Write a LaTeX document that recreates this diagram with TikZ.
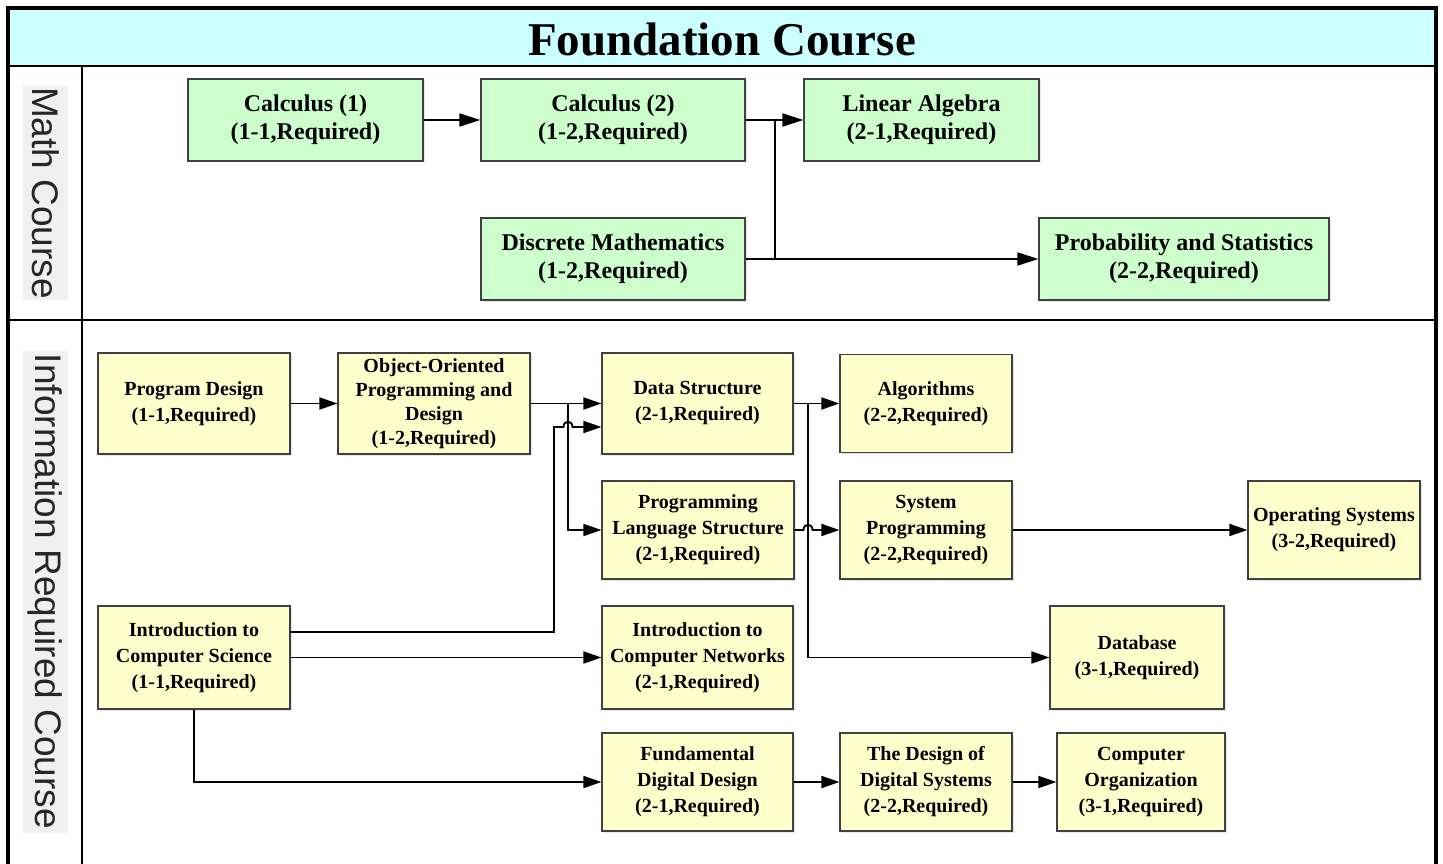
\documentclass[tikz,border=0pt]{standalone}
\usepackage{fontspec}
\setmainfont{Liberation Serif}
\newfontfamily\lanefont{Liberation Sans}
\usetikzlibrary{arrows.meta,shadows}
\definecolor{headcyan}{HTML}{CCFFFF}
\definecolor{mathgreen}{HTML}{CCFFCC}
\definecolor{infoyellow}{HTML}{FFFFCC}
\tikzset{
	course/.style={draw=black!75, line width=1.2pt, inner sep=0pt, align=center,
		drop shadow={opacity=.2, shadow xshift=1.5pt, shadow yshift=-1.5pt}},
	mathbox/.style={course, fill=mathgreen, font=\fontsize{24}{28}\bfseries\selectfont},
	infobox/.style={course, fill=infoyellow, font=\fontsize{20}{26}\bfseries\selectfont},
	lane/.style={fill=black!6, text=black!85, rotate=-90, inner sep=0pt, minimum height=45pt,
		font=\lanefont\fontsize{37}{37}\selectfont},
	arr/.style={-{Triangle[length=18pt,width=12pt]}, line width=1.9pt},
	bigarr/.style={-{Triangle[length=21pt,width=13pt]}, line width=1.9pt},
}
\begin{document}
\begin{tikzpicture}[x=1pt, y=-1pt, line join=miter]
	\useasboundingbox (0,0) rectangle (1443,864);
	% frame and lanes
	\fill[headcyan] (8,8) rectangle (1436,66);
	\draw[line width=2.5pt] (8,66) -- (1436,66) (8,320) -- (1436,320) (82,66) -- (82,864);
	\draw[line width=4pt] (8,864) -- (8,8) -- (1436,8) -- (1436,864);
	\node[font=\fontsize{47}{47}\bfseries\selectfont] (title) at (722,39) {Foundation Course};
	\node[lane, minimum width=214pt] (mathlane) at (45.5,193) {Math Course};
	\node[lane, minimum width=482pt] (infolane) at (45.5,591.5) {Information Required Course};
	% math course
	\node[mathbox, minimum width=235, minimum height=82] (calA) at (305.5,120) {Calculus (1)\\(1-1,Required)};
	\node[mathbox, minimum width=264, minimum height=82] (calB) at (613,120) {Calculus (2)\\(1-2,Required)};
	\node[mathbox, minimum width=235, minimum height=82] (linA) at (921.5,120) {Linear Algebra\\(2-1,Required)};
	\node[mathbox, minimum width=264, minimum height=82] (disc) at (613,259) {Discrete Mathematics\\(1-2,Required)};
	\node[mathbox, minimum width=290, minimum height=82] (prob) at (1184,259) {Probability and Statistics\\(2-2,Required)};
	% information course
	\node[infobox, minimum width=192, minimum height=101] (pd) at (194,403.5) {Program Design\\(1-1,Required)};
	\node[infobox, minimum width=192, minimum height=101, font=\fontsize{20}{24}\bfseries\selectfont] (oop) at (434,403.5) {Object-Oriented\\Programming and\\Design\\(1-2,Required)};
	\node[infobox, minimum width=191, minimum height=101] (ds) at (697.5,403.5) {Data Structure\\(2-1,Required)};
	\node[infobox, minimum width=172, minimum height=98] (alg) at (926,403.5) {Algorithms\\(2-2,Required)};
	\node[infobox, minimum width=192, minimum height=98] (pls) at (698,530) {Programming\\Language Structure\\(2-1,Required)};
	\node[infobox, minimum width=172, minimum height=98] (sp) at (926,530) {System\\Programming\\(2-2,Required)};
	\node[infobox, minimum width=172, minimum height=98] (os) at (1334,530) {Operating Systems\\(3-2,Required)};
	\node[infobox, minimum width=192, minimum height=103] (ics) at (194,657.5) {Introduction to\\Computer Science\\(1-1,Required)};
	\node[infobox, minimum width=191, minimum height=103] (icn) at (697.5,657.5) {Introduction to\\Computer Networks\\(2-1,Required)};
	\node[infobox, minimum width=174, minimum height=103] (db) at (1137,657.5) {Database\\(3-1,Required)};
	\node[infobox, minimum width=191, minimum height=98] (fdd) at (697.5,782) {Fundamental\\Digital Design\\(2-1,Required)};
	\node[infobox, minimum width=172, minimum height=98] (dds) at (926,782) {The Design of\\Digital Systems\\(2-2,Required)};
	\node[infobox, minimum width=168, minimum height=98] (co) at (1141,782) {Computer\\Organization\\(3-1,Required)};
	% junctions
	\coordinate (mj) at (775,0);
	\coordinate (jA) at (568,0);
	\coordinate (jB) at (554,0);
	\coordinate (jC) at (808,0);
	\coordinate (csOut) at ([yshift=25.5pt]ics.east);
	\coordinate (dsIn) at ([yshift=-23.5pt]ds.west);
	% math connectors
	\draw[bigarr] (calA.east) -- (calB.west);
	\draw[bigarr] (calB.east) -- (linA.west);
	\draw[bigarr] (disc.east) -- (prob.west);
	\draw[line width=1.9pt] (calB.east -| mj) -- (disc.east -| mj);
	% information connectors
	\draw[arr] (pd.east) -- (oop.west);
	\draw[arr] (oop.east) -- (ds.west);
	\draw[arr] (oop.east -| jA) |- (pls.west);
	\draw[arr] (csOut) -| (jB |- dsIn) -- ([xshift=-4.5pt]jA |- dsIn)
		.. controls +(0pt,7pt) and +(0pt,7pt) .. ([xshift=4.5pt]jA |- dsIn) -- (dsIn);
	\draw[arr] (ds.east) -- (alg.west);
	\draw[arr] (ds.east -| jC) |- (db.west);
	\draw[arr] (pls.east) -- ([xshift=-4.5pt]jC |- pls.east)
		.. controls +(0pt,7pt) and +(0pt,7pt) .. ([xshift=4.5pt]jC |- pls.east) -- (sp.west);
	\draw[arr] (sp.east) -- (os.west);
	\draw[arr] (ics.east) -- (icn.west);
	\draw[arr] (ics.south) |- (fdd.west);
	\draw[arr] (fdd.east) -- (dds.west);
	\draw[arr] (dds.east) -- (co.west);
\end{tikzpicture}
\end{document}
